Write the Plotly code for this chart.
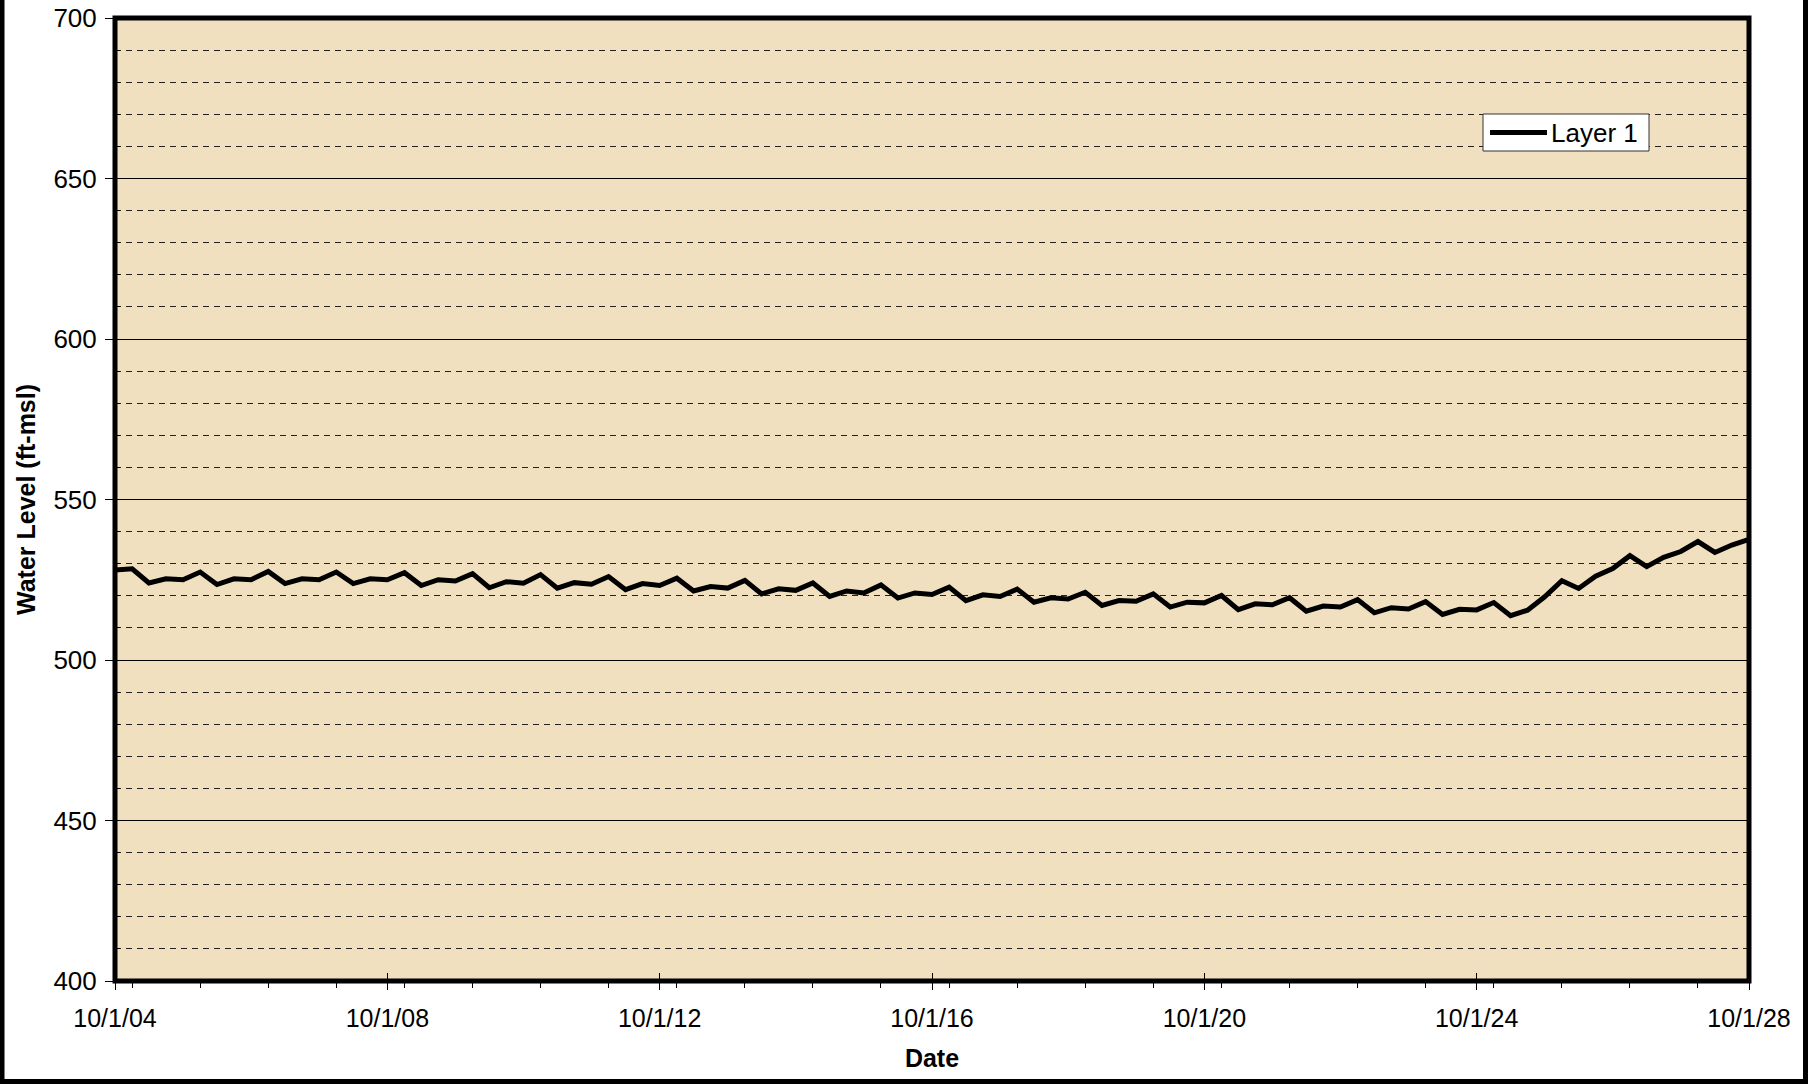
import pandas as pd
import plotly.graph_objects as go

# Quarterly sampling dates, 10/1/2004 .. 10/1/2028
dates = pd.date_range("2004-10-01", "2028-10-01", freq="QS-OCT")

# Water level (ft-msl), Layer 1
layer1 = [
    528.0, 528.4, 524.0, 525.3, 525.0, 527.4, 523.5, 525.3, 525.0, 527.6,
    523.8, 525.3, 525.0, 527.4, 523.8, 525.3, 525.0, 527.2, 523.2, 525.0,
    524.6, 526.9, 522.5, 524.4, 523.9, 526.6, 522.4, 524.1, 523.6, 526.0,
    521.9, 523.8, 523.2, 525.5, 521.5, 522.9, 522.4, 524.8, 520.6, 522.2,
    521.7, 524.0, 519.8, 521.5, 520.9, 523.4, 519.3, 520.9, 520.4, 522.7,
    518.5, 520.3, 519.8, 522.1, 518.0, 519.4, 519.0, 521.1, 517.0, 518.5,
    518.3, 520.6, 516.5, 518.0, 517.8, 520.1, 515.7, 517.5, 517.2, 519.4,
    515.2, 516.8, 516.5, 518.8, 514.7, 516.3, 515.9, 518.2, 514.2, 515.8,
    515.6, 517.9, 513.8, 515.5, 519.7, 524.7, 522.3, 526.1, 528.5, 532.5,
    529.1, 532.0, 533.8, 536.9, 533.5, 535.8, 537.6,
]

x_range = ["2004-10-01", "2028-10-01"]
y_range = [400, 700]
series_name = "Layer 1"
x_title = "Date"
y_title = "Water Level (ft-msl)"

W, H = 1813, 1084
ML, MR, MT, MB = 115, 64, 18, 103
PW, PH = W - ML - MR, H - MT - MB

FONT = "Liberation Sans, Arial, sans-serif"


def px_to_paper_x(px):
    return (px - ML) / PW


def px_to_paper_y(py):
    return (H - MB - py) / PH


fig = go.Figure()
fig.add_trace(go.Scatter(
    x=dates, y=layer1, mode="lines", name=series_name,
    line=dict(color="black", width=5), showlegend=False,
))

fig.update_layout(
    width=W, height=H,
    margin=dict(l=ML, r=MR, t=MT, b=MB, autoexpand=False),
    paper_bgcolor="white",
    plot_bgcolor="#F0E0BF",
    font=dict(family=FONT, size=25, color="black"),
    showlegend=False,
    xaxis=dict(
        type="date", range=x_range,
        tickformat="%-m/%-d/%y", tick0="2004-10-01", dtick="M48",
        ticks="outside", ticklen=8, tickwidth=1, tickcolor="black",
        showgrid=False, zeroline=False, showline=False,
        ticklabelstandoff=7, tickfont=dict(size=25),
        minor=dict(dtick="M12", ticks="outside", ticklen=6, tickwidth=1,
                   tickcolor="black", showgrid=False),
        title=dict(text="<b>" + x_title + "</b>", font=dict(size=25), standoff=18),
    ),
    xaxis2=dict(
        type="date", range=x_range, overlaying="x", side="bottom",
        tick0="2004-10-01", dtick="M48", ticks="inside", ticklen=8,
        tickwidth=1, tickcolor="black", showticklabels=False,
        showgrid=False, zeroline=False, showline=False,
    ),
    yaxis=dict(
        range=y_range, dtick=50, tick0=400,
        ticks="outside", ticklen=9, tickwidth=1, tickcolor="black",
        showgrid=True, gridcolor="black", gridwidth=1,
        zeroline=False, showline=False,
        ticklabelstandoff=3, tickfont=dict(size=26),
        minor=dict(dtick=10, ticks="inside", ticklen=5, tickwidth=1,
                   tickcolor="black", showgrid=True, gridcolor="#222222",
                   gridwidth=1, griddash="6px,5px"),
        title=dict(text="<b>" + y_title + "</b>", font=dict(size=25), standoff=10),
    ),
)

# dummy trace so xaxis2 (inside part of the crossing major ticks) renders
fig.add_trace(go.Scatter(x=[dates[0]], y=[None], xaxis="x2", showlegend=False,
                         hoverinfo="skip"))

# plot area border
fig.add_shape(type="rect", xref="paper", yref="paper", x0=0, x1=1, y0=0, y1=1,
              line=dict(color="black", width=5), layer="above")

# outer figure frame (extends above the visible area)
fig.add_shape(type="rect", xref="paper", yref="paper",
              x0=px_to_paper_x(2), x1=px_to_paper_x(1805.5),
              y0=px_to_paper_y(1081.5), y1=px_to_paper_y(-40),
              line=dict(color="black", width=5), layer="above")

# legend box (drawn manually to match the original's proportions)
fig.add_shape(type="rect", xref="paper", yref="paper",
              x0=px_to_paper_x(1483), x1=px_to_paper_x(1649),
              y0=px_to_paper_y(151), y1=px_to_paper_y(114),
              line=dict(color="#333333", width=1), fillcolor="white", layer="above")
fig.add_shape(type="line", xref="paper", yref="paper",
              x0=px_to_paper_x(1490), x1=px_to_paper_x(1547),
              y0=px_to_paper_y(132.5), y1=px_to_paper_y(132.5),
              line=dict(color="black", width=5), layer="above")
fig.add_annotation(xref="paper", yref="paper",
                   x=px_to_paper_x(1549), y=px_to_paper_y(133),
                   xanchor="left", yanchor="middle", showarrow=False,
                   text=series_name, font=dict(size=26, family=FONT, color="black"))

fig.write_html("out.html",
               config={"displayModeBar": False},
               post_script="document.body.style.margin='0';document.body.style.overflow='hidden';")
